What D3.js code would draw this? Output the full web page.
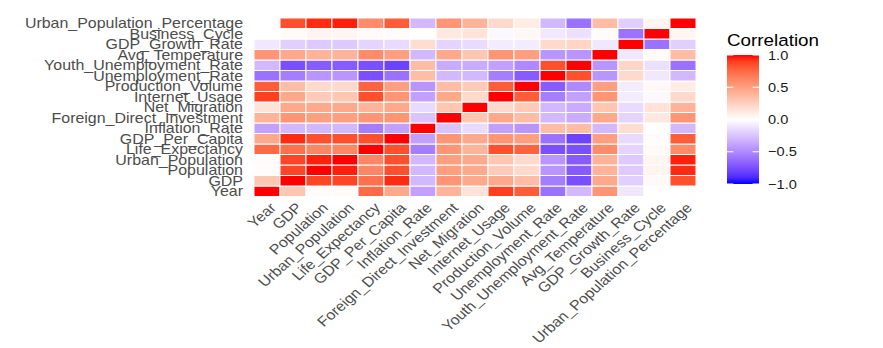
<!DOCTYPE html>
<html>
<head>
<meta charset="utf-8">
<script src="https://cdn.jsdelivr.net/npm/d3@7"></script>
<style>
  body { margin: 0; background: #fff; }
  svg { display: block; font-family: "Liberation Sans", Arial, sans-serif; }
</style>
</head>
<body>
<svg id="chart"></svg>
<script>
// variable names, Year at the bottom / left
var variables = ["Year", "GDP", "Population", "Urban_Population", "Life_Expectancy",
                 "GDP_Per_Capita", "Inflation_Rate", "Foreign_Direct_Investment", "Net_Migration",
                 "Internet_Usage", "Production_Volume", "Unemployment_Rate", "Youth_Unemployment_Rate",
                 "Avg_Temperature", "GDP_Growth_Rate", "Business_Cycle", "Urban_Population_Percentage"]

// lower triangle of the correlation matrix (row i = corr of variable i with variables 0..i)
var corrLower = [
  [1],
  [0.30, 1],
  [0.02, 0.88, 1],
  [0.02, 0.88, 0.97, 1],
  [0.75, 0.72, 0.62, 0.62, 1],
  [0.45, 0.95, 0.85, 0.85, 0.85, 1],
  [-0.40, -0.30, -0.30, -0.30, -0.55, -0.40, 1],
  [0.40, 0.55, 0.50, 0.50, 0.55, 0.55, -0.25, 1],
  [0.15, 0.45, 0.45, 0.45, 0.40, 0.45, -0.15, 0.30, 1],
  [0.90, 0.45, 0.28, 0.30, 0.85, 0.55, -0.40, 0.45, 0.20, 1],
  [0.80, 0.35, 0.20, 0.20, 0.78, 0.50, -0.45, 0.35, 0.28, 0.80, 1],
  [-0.60, -0.55, -0.45, -0.45, -0.75, -0.60, 0.35, -0.30, -0.30, -0.55, -0.70, 1],
  [-0.30, -0.75, -0.70, -0.70, -0.75, -0.80, 0.35, -0.35, -0.35, -0.40, -0.50, 0.85, 1],
  [0.55, 0.45, 0.40, 0.40, 0.60, 0.50, -0.30, 0.45, 0.30, 0.55, 0.50, -0.45, -0.45, 1],
  [-0.10, -0.20, -0.22, -0.22, -0.18, -0.15, 0.18, -0.18, -0.15, -0.08, -0.08, 0.20, 0.22, -0.10, 1],
  [0.00, 0.03, 0.06, 0.05, 0.03, 0.02, 0.00, 0.12, 0.15, -0.03, 0.04, -0.10, -0.13, 0.02, -0.60, 1],
  [0.00, 0.85, 0.95, 0.97, 0.60, 0.80, -0.30, 0.55, 0.40, 0.20, 0.10, -0.30, -0.60, 0.35, -0.20, 0.05, 1]
]

var legendTicks = [-1, -0.5, 0, 0.5, 1]

var dimensions = {
    width: 883,
    height: 348,
    stretch: 1.14,   // the reference picture is a bit wider than tall
    panel: { left: 254, right: 696, top: 18, bottom: 196.5 }
}

// build long-format cells from the (symmetric) matrix
var cells = []
variables.forEach((rowVar, i) => {
    variables.forEach((colVar, j) => {
        var v = i >= j ? corrLower[i][j] : corrLower[j][i]
        cells.push({ x: colVar, y: rowVar, value: v })
    })
})

var svg = d3.select("#chart")
            .attr("width", dimensions.width)
            .attr("height", dimensions.height)

var xScale = d3.scaleBand()
               .domain(variables)
               .range([dimensions.panel.left, dimensions.panel.right])

var yScale = d3.scaleBand()
               .domain(variables)
               .range([dimensions.panel.bottom, dimensions.panel.top])

var colorScale = d3.scaleLinear()
                   .domain([-1, 0, 1])
                   .range(["blue", "white", "red"])
                   .interpolate(d3.interpolateLab)

// tiles
svg.append("g")
   .selectAll("rect")
   .data(cells)
   .enter()
   .append("rect")
   .attr("x", d => xScale(d.x))
   .attr("y", d => yScale(d.y))
   .attr("width", xScale.bandwidth())
   .attr("height", yScale.bandwidth())
   .attr("fill", d => colorScale(d.value))
   .attr("stroke", "white")
   .attr("stroke-width", 1)

// y axis labels
svg.append("g")
   .selectAll("text")
   .data(variables)
   .enter()
   .append("text")
   .attr("transform", d => "translate(" + (dimensions.panel.left - 11) + "," + (yScale(d) + yScale.bandwidth() / 2) + ") scale(" + dimensions.stretch + ",1)")
   .attr("dy", "0.36em")
   .attr("text-anchor", "end")
   .attr("font-size", 14)
   .attr("fill", "#4d4d4d")
   .text(d => d)

// x axis labels, rotated 45 degrees
svg.append("g")
   .selectAll("text")
   .data(variables)
   .enter()
   .append("text")
   .attr("transform", d => "translate(" + (xScale(d) + xScale.bandwidth() / 2 + 2) + "," + (dimensions.panel.bottom + 5) + ") scale(" + dimensions.stretch + ",1) rotate(-45)")
   .attr("dy", "0.72em")
   .attr("text-anchor", "end")
   .attr("font-size", 14)
   .attr("fill", "#4d4d4d")
   .text(d => d)

// legend
var legend = svg.append("g")
var barX = 727, barW = 32
var legendScale = d3.scaleLinear().domain([-1, 1]).range([184, 55])

var grad = svg.append("defs").append("linearGradient")
              .attr("id", "corrGrad")
              .attr("x1", 0).attr("y1", 1)
              .attr("x2", 0).attr("y2", 0)
grad.selectAll("stop")
    .data(d3.range(-1, 1.001, 0.1))
    .enter()
    .append("stop")
    .attr("offset", d => (d + 1) / 2)
    .attr("stop-color", d => colorScale(d))

legend.append("text")
      .attr("transform", "translate(" + barX + ",46) scale(" + dimensions.stretch + ",1)")
      .attr("font-size", 16.5)
      .attr("fill", "black")
      .text("Correlation")

legend.append("rect")
      .attr("x", barX)
      .attr("y", legendScale(1))
      .attr("width", barW)
      .attr("height", legendScale(-1) - legendScale(1))
      .attr("fill", "url(#corrGrad)")

legend.selectAll(".tickL")
      .data(legendTicks)
      .enter()
      .append("line")
      .attr("x1", barX).attr("x2", barX + barW / 5)
      .attr("y1", d => legendScale(d)).attr("y2", d => legendScale(d))
      .attr("stroke", "white")
      .attr("stroke-width", 1)

legend.selectAll(".tickR")
      .data(legendTicks)
      .enter()
      .append("line")
      .attr("x1", barX + barW * 4 / 5).attr("x2", barX + barW)
      .attr("y1", d => legendScale(d)).attr("y2", d => legendScale(d))
      .attr("stroke", "white")
      .attr("stroke-width", 1)

legend.selectAll(".lbl")
      .data(legendTicks)
      .enter()
      .append("text")
      .attr("transform", d => "translate(768," + legendScale(d) + ") scale(" + dimensions.stretch + ",1)")
      .attr("dy", "0.36em")
      .attr("font-size", 12.8)
      .attr("fill", "#1a1a1a")
      .text(d => d3.format(".1f")(d))
</script>
</body>
</html>
